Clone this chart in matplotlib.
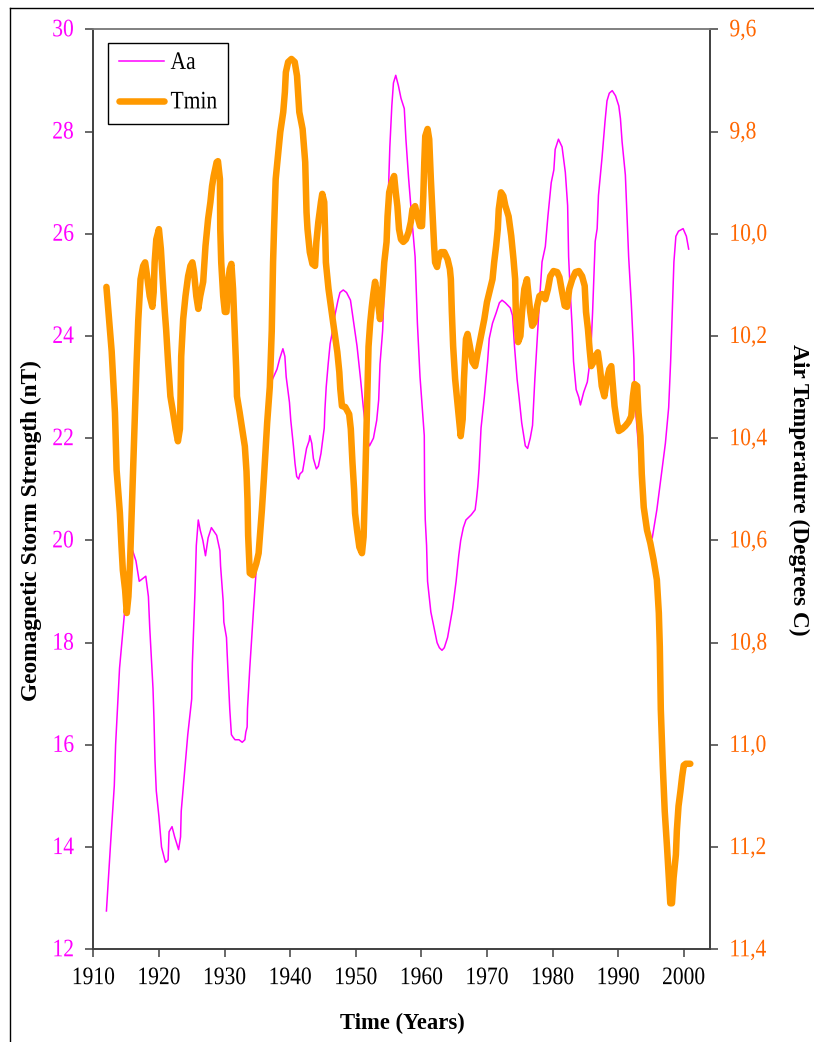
import matplotlib
matplotlib.use("Agg")
import matplotlib.pyplot as plt
from matplotlib.ticker import FixedLocator, FuncFormatter
from matplotlib.lines import Line2D
from matplotlib.patheffects import AbstractPathEffect
from matplotlib.transforms import Affine2D

# ---------------- data ----------------
aa_years = [1912.0, 1912.6, 1913.2, 1913.4, 1914.0, 1914.7, 1915.0, 1915.5, 1916.0, 1916.5,
            1917.0, 1917.5, 1918.0, 1918.4, 1918.6, 1919.1, 1919.25, 1919.4, 1919.6, 1920.0,
            1920.4, 1921.0, 1921.4, 1921.55, 1922.0, 1922.4, 1923.0, 1923.3, 1923.4, 1923.9,
            1924.4, 1925.0, 1925.1, 1925.5, 1925.7, 1926.0, 1926.3, 1926.7, 1927.1, 1927.5,
            1928.0, 1928.8, 1929.3, 1929.4, 1929.8, 1929.9, 1930.3, 1930.4, 1930.7, 1930.8,
            1931.05, 1931.3, 1931.6, 1932.2, 1932.7, 1933.1, 1933.25, 1933.45, 1933.5, 1933.85,
            1934.4, 1934.9, 1935.6, 1936.3, 1937.0, 1937.3, 1938.0, 1938.4, 1938.9, 1939.2,
            1939.4, 1939.9, 1940.1, 1940.5, 1940.75, 1941.0, 1941.3, 1941.5, 1941.9, 1942.1,
            1942.5, 1942.9, 1943.0, 1943.3, 1943.55, 1944.0, 1944.3, 1944.7, 1945.2, 1945.3,
            1945.5, 1945.8, 1946.1, 1946.4, 1946.6, 1946.9, 1947.3, 1947.6, 1948.1, 1948.6,
            1949.2, 1949.7, 1950.2, 1950.7, 1951.2, 1951.7, 1952.1, 1952.7, 1953.2, 1953.5,
            1953.7, 1954.1, 1954.6, 1955.0, 1955.2, 1955.5, 1955.75, 1956.1, 1956.5, 1956.9,
            1957.4, 1957.65, 1958.05, 1958.55, 1959.05, 1959.4, 1959.8, 1960.2, 1960.45, 1960.5,
            1960.6, 1960.8, 1960.95, 1961.45, 1962.0, 1962.4, 1962.75, 1963.15, 1963.5, 1964.0,
            1964.4, 1964.75, 1965.0, 1965.3, 1965.7, 1966.0, 1966.4, 1966.8, 1967.6, 1968.2,
            1968.4, 1968.6, 1968.8, 1969.1, 1969.6, 1970.1, 1970.35, 1970.85, 1971.4, 1971.9,
            1972.3, 1972.8, 1973.55, 1973.9, 1974.2, 1974.6, 1974.9, 1975.3, 1975.85, 1976.2,
            1976.6, 1976.95, 1977.3, 1977.6, 1977.9, 1978.4, 1978.9, 1979.3, 1979.8, 1980.2,
            1980.4, 1980.9, 1981.45, 1981.95, 1982.3, 1982.45, 1982.7, 1983.0, 1983.2, 1983.6,
            1984.0, 1984.25, 1984.75, 1985.3, 1985.8, 1986.1, 1986.5, 1986.8, 1987.0, 1987.55,
            1988.0, 1988.3, 1988.65, 1989.1, 1989.6, 1990.1, 1990.35, 1990.6, 1991.1, 1991.35,
            1991.6, 1992.0, 1992.4, 1992.5, 1993.0, 1993.6, 1994.2, 1994.8, 1995.2, 1995.9,
            1996.4, 1996.7, 1997.2, 1997.7, 1998.0, 1998.25, 1998.5, 1998.8, 1999.2, 1999.9,
            2000.4, 2000.75]
aa_values = [12.75, 14.0, 15.2, 16.0, 17.5, 18.5, 19.0, 19.6, 19.8, 19.6,
             19.2, 19.25, 19.3, 18.9, 18.3, 17.1, 16.5, 15.7, 15.1, 14.6,
             14.0, 13.7, 13.75, 14.3, 14.4, 14.2, 13.95, 14.2, 14.7, 15.45,
             16.2, 16.9, 17.6, 19.0, 19.9, 20.4, 20.2, 20.0, 19.7, 20.05,
             20.25, 20.1, 19.8, 19.5, 18.8, 18.4, 18.1, 17.8, 17.0, 16.7,
             16.2, 16.15, 16.1, 16.1, 16.05, 16.1, 16.25, 16.35, 16.7, 17.5,
             18.6, 19.55, 20.8, 22.0, 22.95, 23.15, 23.35, 23.55, 23.75, 23.6,
             23.2, 22.7, 22.35, 21.85, 21.5, 21.25, 21.2, 21.3, 21.35, 21.5,
             21.8, 21.95, 22.05, 21.9, 21.6, 21.4, 21.45, 21.7, 22.2, 22.55,
             23.0, 23.45, 23.85, 24.05, 24.25, 24.45, 24.7, 24.85, 24.9, 24.85,
             24.7, 24.25, 23.8, 23.2, 22.55, 22.0, 21.85, 22.0, 22.35, 22.75,
             23.45, 24.1, 25.8, 26.9, 27.7, 28.5, 28.95, 29.1, 28.9, 28.65,
             28.45, 27.85, 27.1, 26.3, 25.55, 24.25, 23.2, 22.5, 22.05, 21.0,
             20.4, 19.9, 19.2, 18.6, 18.25, 18.0, 17.9, 17.85, 17.9, 18.1,
             18.4, 18.65, 18.9, 19.2, 19.7, 20.0, 20.25, 20.4, 20.5, 20.6,
             20.8, 21.05, 21.4, 22.2, 22.8, 23.5, 23.95, 24.25, 24.45, 24.65,
             24.7, 24.65, 24.55, 24.4, 23.8, 23.15, 22.8, 22.3, 21.85, 21.8,
             22.0, 22.25, 23.15, 23.8, 24.45, 25.45, 25.75, 26.35, 27.0, 27.25,
             27.65, 27.85, 27.7, 27.2, 26.55, 25.55, 24.85, 24.15, 23.5, 22.95,
             22.8, 22.65, 22.9, 23.1, 23.6, 24.45, 25.85, 26.1, 26.75, 27.5,
             28.2, 28.6, 28.75, 28.8, 28.7, 28.5, 28.25, 27.8, 27.15, 26.35,
             25.55, 24.65, 23.55, 22.8, 22.0, 21.0, 20.4, 20.0, 20.05, 20.6,
             21.1, 21.4, 21.9, 22.6, 23.5, 24.45, 25.45, 25.95, 26.05, 26.1,
             25.95, 25.7]

tmin_years = [1912.0, 1912.8, 1913.3, 1913.55, 1914.05, 1914.3, 1914.5, 1914.85, 1915.1, 1915.35,
              1915.6, 1915.85, 1916.1, 1916.35, 1916.6, 1916.85, 1917.2, 1917.6, 1917.9, 1918.2,
              1918.6, 1919.0, 1919.2, 1919.35, 1919.6, 1920.0, 1920.3, 1920.6, 1920.9, 1921.1,
              1921.4, 1921.75, 1922.15, 1922.55, 1922.9, 1923.2, 1923.3, 1923.4, 1923.7, 1924.05,
              1924.45, 1924.8, 1925.1, 1925.35, 1925.7, 1926.0, 1926.3, 1926.75, 1927.1, 1927.5,
              1927.85, 1928.1, 1928.35, 1928.8, 1929.0, 1929.3, 1929.35, 1929.5, 1929.8, 1930.05,
              1930.3, 1930.55, 1930.8, 1931.05, 1931.3, 1931.55, 1931.8, 1931.9, 1932.3, 1932.7,
              1933.1, 1933.35, 1933.5, 1933.6, 1933.85, 1934.3, 1934.85, 1935.2, 1935.4, 1935.7,
              1936.0, 1936.2, 1936.5, 1936.9, 1937.2, 1937.4, 1937.55, 1937.8, 1938.2, 1938.5,
              1938.95, 1939.2, 1939.35, 1939.7, 1940.2, 1940.7, 1941.05, 1941.4, 1941.9, 1942.3,
              1942.5, 1942.65, 1943.0, 1943.4, 1943.8, 1944.0, 1944.3, 1944.7, 1944.9, 1945.2,
              1945.35, 1945.45, 1945.85, 1946.2, 1946.55, 1946.85, 1947.2, 1947.5, 1947.65, 1947.9,
              1948.4, 1949.0, 1949.25, 1949.5, 1949.75, 1949.9, 1950.2, 1950.55, 1950.95, 1951.2,
              1951.45, 1951.7, 1951.95, 1952.2, 1952.45, 1952.7, 1952.95, 1953.3, 1953.7, 1954.0,
              1954.35, 1954.7, 1954.85, 1955.1, 1955.5, 1955.85, 1956.1, 1956.35, 1956.6, 1956.9,
              1957.25, 1957.65, 1958.05, 1958.4, 1958.65, 1959.05, 1959.4, 1959.8, 1960.1, 1960.3,
              1960.45, 1960.6, 1960.95, 1961.2, 1961.45, 1961.7, 1961.95, 1962.1, 1962.4, 1962.6,
              1963.0, 1963.5, 1964.0, 1964.35, 1964.5, 1964.65, 1964.85, 1965.15, 1965.4, 1965.7,
              1966.0, 1966.3, 1966.5, 1966.8, 1967.05, 1967.4, 1967.8, 1968.2, 1968.6, 1969.1,
              1969.6, 1970.0, 1970.5, 1970.85, 1971.1, 1971.4, 1971.65, 1971.8, 1972.15, 1972.5,
              1972.8, 1973.3, 1973.7, 1974.05, 1974.3, 1974.4, 1974.75, 1975.1, 1975.35, 1975.7,
              1976.1, 1976.35, 1976.6, 1976.9, 1977.25, 1977.65, 1978.0, 1978.4, 1978.9, 1979.3,
              1979.65, 1980.15, 1980.7, 1981.05, 1981.45, 1981.85, 1982.2, 1982.55, 1983.0, 1983.5,
              1984.0, 1984.5, 1984.9, 1985.1, 1985.4, 1985.65, 1985.9, 1986.25, 1986.5, 1986.9,
              1987.25, 1987.5, 1987.9, 1988.3, 1988.65, 1988.95, 1989.15, 1989.45, 1989.8, 1990.1,
              1990.6, 1991.1, 1991.6, 1992.0, 1992.25, 1992.5, 1992.9, 1993.1, 1993.4, 1993.6,
              1993.9, 1994.4, 1994.9, 1995.4, 1995.9, 1996.2, 1996.35, 1996.5, 1996.8, 1997.1,
              1997.45, 1997.7, 1997.95, 1998.2, 1998.45, 1998.8, 1998.95, 1999.2, 1999.5, 1999.75,
              2000.0, 2000.3, 2001.0]
tmin_values = [10.104, 10.23, 10.35, 10.462, 10.546, 10.612, 10.658, 10.697, 10.742, 10.71,
               10.644, 10.546, 10.449, 10.351, 10.253, 10.17, 10.089, 10.063, 10.056, 10.083,
               10.122, 10.143, 10.114, 10.056, 10.011, 9.991, 10.03, 10.094, 10.153, 10.187,
               10.251, 10.318, 10.349, 10.382, 10.406, 10.382, 10.318, 10.24, 10.167, 10.122,
               10.083, 10.063, 10.056, 10.075, 10.122, 10.147, 10.122, 10.094, 10.024, 9.971,
               9.938, 9.907, 9.887, 9.86, 9.858, 9.893, 9.991, 10.056, 10.122, 10.153,
               10.153, 10.094, 10.069, 10.059, 10.108, 10.187, 10.271, 10.318, 10.349, 10.382,
               10.416, 10.465, 10.52, 10.59, 10.664, 10.668, 10.645, 10.625, 10.59, 10.54,
               10.48, 10.436, 10.37, 10.30, 10.19, 10.056, 9.991, 9.893, 9.84, 9.801,
               9.762, 9.723, 9.684, 9.664, 9.658, 9.664, 9.691, 9.762, 9.795, 9.86,
               9.958, 9.991, 10.036, 10.059, 10.063, 10.016, 9.977, 9.938, 9.922, 9.938,
               10.004, 10.056, 10.108, 10.141, 10.173, 10.2, 10.232, 10.271, 10.304, 10.337,
               10.339, 10.353, 10.382, 10.447, 10.5, 10.547, 10.58, 10.613, 10.625, 10.593,
               10.482, 10.351, 10.221, 10.175, 10.143, 10.116, 10.094, 10.122, 10.167, 10.122,
               10.056, 10.016, 9.966, 9.919, 9.899, 9.887, 9.919, 9.946, 9.991, 10.011,
               10.016, 10.011, 9.997, 9.977, 9.952, 9.946, 9.966, 9.985, 9.985, 9.926,
               9.86, 9.809, 9.795, 9.815, 9.893, 9.958, 10.024, 10.056, 10.065, 10.05,
               10.036, 10.036, 10.05, 10.069, 10.089, 10.153, 10.22, 10.284, 10.318, 10.357,
               10.396, 10.363, 10.284, 10.206, 10.196, 10.22, 10.251, 10.259, 10.232, 10.2,
               10.167, 10.134, 10.108, 10.089, 10.056, 10.024, 9.991, 9.952, 9.919, 9.926,
               9.945, 9.966, 10.004, 10.05, 10.089, 10.153, 10.212, 10.2, 10.153, 10.108,
               10.089, 10.122, 10.153, 10.18, 10.173, 10.141, 10.122, 10.118, 10.128, 10.108,
               10.083, 10.073, 10.075, 10.085, 10.114, 10.141, 10.143, 10.108, 10.089, 10.075,
               10.073, 10.083, 10.102, 10.153, 10.187, 10.226, 10.259, 10.251, 10.24, 10.232,
               10.265, 10.298, 10.318, 10.284, 10.265, 10.259, 10.29, 10.337, 10.368, 10.386,
               10.382, 10.376, 10.368, 10.357, 10.318, 10.294, 10.298, 10.349, 10.396, 10.47,
               10.535, 10.58, 10.605, 10.638, 10.677, 10.742, 10.808, 10.93, 11.04, 11.13,
               11.2, 11.255, 11.31, 11.31, 11.26, 11.215, 11.167, 11.12, 11.09, 11.062,
               11.04, 11.037, 11.037]

x_ticks = [1910, 1920, 1930, 1940, 1950, 1960, 1970, 1980, 1990, 2000]
left_ticks = [12, 14, 16, 18, 20, 22, 24, 26, 28, 30]
right_ticks = [9.6, 9.8, 10.0, 10.2, 10.4, 10.6, 10.8, 11.0, 11.2, 11.4]

series_names = ["Aa", "Tmin"]
x_label = "Time (Years)"
left_label = "Geomagnetic Storm Strength (nT)"
right_label = "Air Temperature (Degrees C)"

# ---------------- style ----------------
MAGENTA = "#FF00FF"
ORANGE = "#FF9900"
RIGHT_TXT = "#FF6600"
SERIF = ["Liberation Serif", "DejaVu Serif"]
W, H = 814, 1042


class VStretch(AbstractPathEffect):
    """Stretch drawn text vertically about its own baseline anchor."""
    def __init__(self, s):
        super().__init__((0, 0))
        self.s = s

    def draw_path(self, renderer, gc, tpath, affine, rgbFace=None):
        m = affine.get_matrix()
        x0, y0 = m[0, 2], m[1, 2]
        a = affine + Affine2D().translate(-x0, -y0).scale(1, self.s).translate(x0, y0)
        renderer.draw_path(gc, tpath, a, rgbFace)


stretch = [VStretch(1.17)]

plt.rcParams["font.family"] = SERIF
fig = plt.figure(figsize=(W / 100, H / 100), dpi=100)
fig.patch.set_facecolor("white")

ax_left, ax_right, ax_top, ax_bot = 93.3, 710.0, 29.3, 949.3
ax = fig.add_axes([ax_left / W, 1 - ax_bot / H, (ax_right - ax_left) / W, (ax_bot - ax_top) / H])
ax2 = ax.twinx()

ax.plot(aa_years, aa_values, color=MAGENTA, lw=1.1, label=series_names[0], zorder=2)
ax2.plot(tmin_years, tmin_values, color=ORANGE, lw=4.7, solid_capstyle="round",
         solid_joinstyle="round", label=series_names[1], zorder=3)

ax.set_xlim(1910, 2004)
ax.set_ylim(12, 30)
ax2.set_ylim(11.4, 9.6)

ax.xaxis.set_major_locator(FixedLocator(x_ticks))
ax.yaxis.set_major_locator(FixedLocator(left_ticks))
ax2.yaxis.set_major_locator(FixedLocator(right_ticks))
ax.yaxis.set_major_formatter(FuncFormatter(lambda v, p: f"{v:g}"))
ax2.yaxis.set_major_formatter(FuncFormatter(lambda v, p: f"{v:.1f}".replace(".", ",")))

spine_col = "#404040"
for a in (ax, ax2):
    for side in ("left", "bottom", "right"):
        a.spines[side].set_color(spine_col)
        a.spines[side].set_linewidth(1.2)
    a.spines["top"].set_color("#808080")
    a.spines["top"].set_linewidth(1.2)

ax.tick_params(axis="x", direction="out", length=6, width=1.1, color=spine_col,
               labelsize=15.5, pad=9, labelcolor="black")
ax.tick_params(axis="y", direction="out", length=6, width=1.1, color=spine_col,
               labelsize=15.5, pad=8, labelcolor=MAGENTA)
ax2.tick_params(axis="y", direction="out", length=6, width=1.1, color=spine_col,
                labelsize=15.5, pad=8, labelcolor=RIGHT_TXT)

for t in ax.get_xticklabels() + ax.get_yticklabels() + ax2.get_yticklabels():
    t.set_path_effects(stretch)

# axis labels
fig.text(402 / W, 1 - 1023 / H, x_label, ha="center", va="center",
         fontsize=16.3, fontweight="bold", family=SERIF)
fig.text(31 / W, 1 - 531 / H, left_label, ha="center", va="center", rotation=90,
         fontsize=16.8, fontweight="bold", family=SERIF)
fig.text(799 / W, 1 - 490 / H, right_label, ha="center", va="center", rotation=270,
         fontsize=16.8, fontweight="bold", family=SERIF)

# legend
handles = [Line2D([], [], color=MAGENTA, lw=1.1),
           Line2D([], [], color=ORANGE, lw=4.7, solid_capstyle="round")]
leg = ax2.legend(handles, series_names, loc="upper left", bbox_to_anchor=(0.024, 0.985),
                 borderaxespad=0, frameon=True, fancybox=False, shadow=False,
                 fontsize=15.5, handlelength=2.1, handletextpad=0.3, borderpad=0.5,
                 labelspacing=0.9)
leg.get_frame().set_edgecolor("black")
leg.get_frame().set_linewidth(1.0)
leg.get_frame().set_alpha(1)
for t in leg.get_texts():
    t.set_path_effects(stretch)

# outer border of the picture (left and top edges)
fig.add_artist(Line2D([9.5 / W, 9.5 / W], [0, 1 - 7.5 / H], transform=fig.transFigure,
                      color="black", lw=1.0))
fig.add_artist(Line2D([9.5 / W, 1], [1 - 7.5 / H, 1 - 7.5 / H], transform=fig.transFigure,
                      color="black", lw=1.0))

fig.savefig("out.png", dpi=100)
